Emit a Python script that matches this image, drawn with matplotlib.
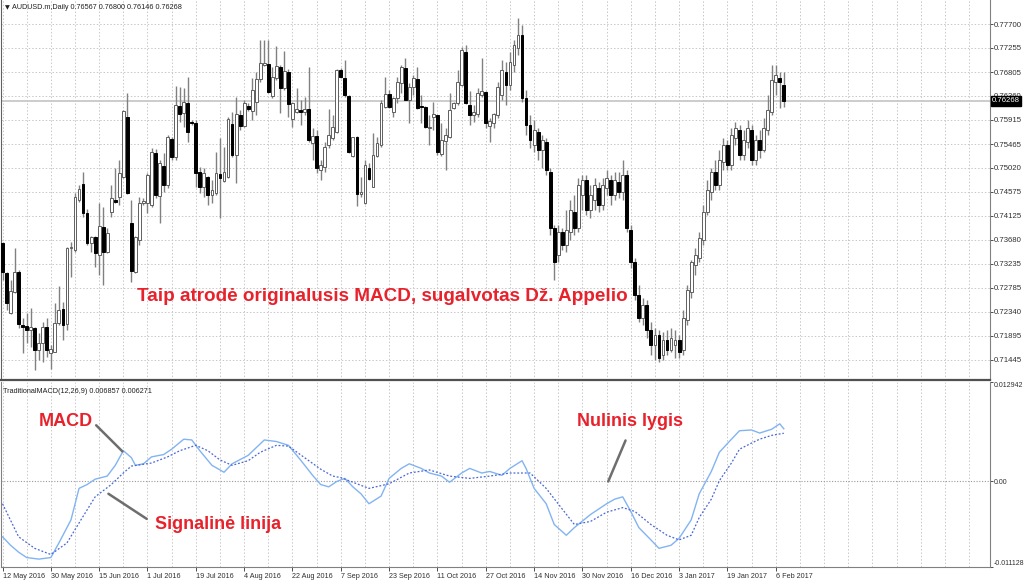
import matplotlib
matplotlib.use('Agg')
import matplotlib.pyplot as plt
import numpy as np

plt.rcParams['font.family'] = ['Liberation Sans', 'DejaVu Sans']

# daily candles AUDUSD, 12 May 2016 .. 8 Feb 2017
opens = [0.7362, 0.7306, 0.7232, 0.7271, 0.7308, 0.7210, 0.7208, 0.7200, 0.7204, 0.7163,
         0.7176, 0.7206, 0.7157, 0.7159, 0.7213, 0.7239, 0.7211, 0.7353, 0.7349, 0.7442,
         0.7472, 0.7418, 0.7362, 0.7373, 0.7340, 0.7392, 0.7345, 0.7420, 0.7442, 0.7448,
         0.7485, 0.7597, 0.7399, 0.7308, 0.7368, 0.7437, 0.7437, 0.7433, 0.7530, 0.7450,
         0.7506, 0.7470, 0.7556, 0.7522, 0.7617, 0.7604, 0.7623, 0.7588, 0.7586, 0.7494,
         0.7467, 0.7485, 0.7452, 0.7455, 0.7491, 0.7478, 0.7485, 0.7584, 0.7526, 0.7600,
         0.7580, 0.7617, 0.7608, 0.7625, 0.7668, 0.7694, 0.7696, 0.7636, 0.7669, 0.7690,
         0.7651, 0.7681, 0.7593, 0.7606, 0.7610, 0.7606, 0.7612, 0.7548, 0.7561, 0.7498,
         0.7504, 0.7545, 0.7558, 0.7569, 0.7684, 0.7669, 0.7636, 0.7524, 0.7560, 0.7453,
         0.7437, 0.7502, 0.7467, 0.7524, 0.7545, 0.7615, 0.7640, 0.7606, 0.7632, 0.7660,
         0.7688, 0.7628, 0.7653, 0.7668, 0.7617, 0.7615, 0.7576, 0.7597, 0.7601, 0.7528,
         0.7552, 0.7560, 0.7614, 0.7623, 0.7656, 0.7718, 0.7619, 0.7601, 0.7602, 0.7638,
         0.7643, 0.7580, 0.7586, 0.7601, 0.7638, 0.7681, 0.7656, 0.7694, 0.7725, 0.7750,
         0.7632, 0.7582, 0.7545, 0.7569, 0.7535, 0.7550, 0.7494, 0.7390, 0.7340, 0.7383,
         0.7359, 0.7383, 0.7420, 0.7390, 0.7452, 0.7480, 0.7424, 0.7442, 0.7465, 0.7433,
         0.7465, 0.7480, 0.7452, 0.7476, 0.7457, 0.7489, 0.7386, 0.7327, 0.7265, 0.7223,
         0.7247, 0.7200, 0.7172, 0.7191, 0.7154, 0.7182, 0.7163, 0.7172, 0.7182, 0.7163,
         0.7219, 0.7271, 0.7321, 0.7334, 0.7368, 0.7420, 0.7457, 0.7494, 0.7470, 0.7513,
         0.7545, 0.7508, 0.7558, 0.7573, 0.7526, 0.7550, 0.7573, 0.7517, 0.7554, 0.7535,
         0.7573, 0.7606, 0.7662, 0.7669, 0.76567]
highs = [0.7364, 0.7308, 0.7293, 0.7353, 0.7312, 0.7223, 0.7232, 0.7241, 0.7206, 0.7195,
         0.7215, 0.7223, 0.7172, 0.7250, 0.7282, 0.7252, 0.7355, 0.7364, 0.7455, 0.7470,
         0.7494, 0.7426, 0.7375, 0.7375, 0.7437, 0.7429, 0.7390, 0.7470, 0.7502, 0.7517,
         0.7610, 0.7642, 0.7442, 0.7375, 0.7448, 0.7446, 0.7493, 0.7539, 0.7537, 0.7517,
         0.7530, 0.7563, 0.7560, 0.7655, 0.7653, 0.7651, 0.7671, 0.7591, 0.7591, 0.7504,
         0.7502, 0.7487, 0.7480, 0.7532, 0.7558, 0.7541, 0.7597, 0.7606, 0.7634, 0.7610,
         0.7628, 0.7623, 0.7669, 0.7681, 0.7740, 0.7740, 0.7740, 0.7690, 0.7729, 0.7694,
         0.7720, 0.7686, 0.7625, 0.7651, 0.7628, 0.7634, 0.7690, 0.7576, 0.7573, 0.7517,
         0.7550, 0.7612, 0.7601, 0.7686, 0.7688, 0.7703, 0.7638, 0.7560, 0.7562, 0.7485,
         0.7517, 0.7511, 0.7567, 0.7560, 0.7628, 0.7671, 0.7647, 0.7634, 0.7671, 0.7694,
         0.7707, 0.7660, 0.7675, 0.7690, 0.7638, 0.7617, 0.7601, 0.7625, 0.7601, 0.7586,
         0.7576, 0.7642, 0.7625, 0.7684, 0.7727, 0.7731, 0.7645, 0.7619, 0.7651, 0.7707,
         0.7645, 0.7595, 0.7604, 0.7662, 0.7703, 0.7699, 0.7718, 0.7740, 0.7781, 0.7768,
         0.7647, 0.7601, 0.7591, 0.7576, 0.7563, 0.7558, 0.7502, 0.7396, 0.7396, 0.7390,
         0.7424, 0.7442, 0.7452, 0.7483, 0.7489, 0.7489, 0.7470, 0.7483, 0.7476, 0.7483,
         0.7498, 0.7489, 0.7494, 0.7494, 0.7517, 0.7498, 0.7396, 0.7334, 0.7284, 0.7260,
         0.7256, 0.7215, 0.7204, 0.7200, 0.7197, 0.7200, 0.7204, 0.7200, 0.7191, 0.7237,
         0.7284, 0.7331, 0.7353, 0.7383, 0.7433, 0.7480, 0.7502, 0.7517, 0.7535, 0.7558,
         0.7554, 0.7576, 0.7588, 0.7582, 0.7573, 0.7591, 0.7582, 0.7563, 0.7573, 0.7595,
         0.7638, 0.7694, 0.7694, 0.7681, 0.76800]
lows = [0.7293, 0.7237, 0.7230, 0.7269, 0.7204, 0.7157, 0.7176, 0.7169, 0.7126, 0.7145,
        0.7141, 0.7150, 0.7128, 0.7159, 0.7210, 0.7182, 0.7200, 0.7299, 0.7345, 0.7439,
        0.7411, 0.7358, 0.7345, 0.7318, 0.7303, 0.7284, 0.7343, 0.7411, 0.7437, 0.7433,
        0.7483, 0.7453, 0.7290, 0.7306, 0.7359, 0.7433, 0.7418, 0.7429, 0.7446, 0.7399,
        0.7457, 0.7465, 0.7517, 0.7517, 0.7588, 0.7578, 0.7550, 0.7582, 0.7467, 0.7455,
        0.7448, 0.7433, 0.7437, 0.7452, 0.7409, 0.7476, 0.7483, 0.7522, 0.7474, 0.7573,
        0.7578, 0.7608, 0.7591, 0.7601, 0.7662, 0.7692, 0.7641, 0.7632, 0.7666, 0.7604,
        0.7647, 0.7597, 0.7578, 0.7604, 0.7582, 0.7601, 0.7550, 0.7517, 0.7493, 0.7480,
        0.7494, 0.7539, 0.7554, 0.7567, 0.7669, 0.7634, 0.7530, 0.7522, 0.7431, 0.7448,
        0.7435, 0.7480, 0.7467, 0.7522, 0.7541, 0.7614, 0.7614, 0.7597, 0.7623, 0.7642,
        0.7628, 0.7586, 0.7638, 0.7612, 0.7586, 0.7576, 0.7545, 0.7573, 0.7526, 0.7524,
        0.7498, 0.7558, 0.7612, 0.7619, 0.7655, 0.7621, 0.7582, 0.7588, 0.7597, 0.7634,
        0.7576, 0.7550, 0.7576, 0.7595, 0.7628, 0.7619, 0.7647, 0.7681, 0.7712, 0.7625,
        0.7563, 0.7539, 0.7532, 0.7517, 0.7502, 0.7489, 0.7377, 0.7293, 0.7327, 0.7349,
        0.7345, 0.7368, 0.7377, 0.7383, 0.7424, 0.7414, 0.7409, 0.7424, 0.7420, 0.7424,
        0.7452, 0.7433, 0.7442, 0.7446, 0.7442, 0.7383, 0.7316, 0.7256, 0.7215, 0.7210,
        0.7185, 0.7154, 0.7144, 0.7141, 0.7144, 0.7154, 0.7159, 0.7148, 0.7148, 0.7154,
        0.7210, 0.7260, 0.7303, 0.7327, 0.7359, 0.7414, 0.7442, 0.7461, 0.7461, 0.7498,
        0.7498, 0.7498, 0.7545, 0.7517, 0.7517, 0.7539, 0.7508, 0.7508, 0.7521, 0.7532,
        0.7563, 0.7601, 0.7638, 0.7614, 0.76146]
closes = [0.7308, 0.7250, 0.7273, 0.7308, 0.7211, 0.7206, 0.7200, 0.7206, 0.7163, 0.7176,
          0.7206, 0.7163, 0.7165, 0.7213, 0.7237, 0.7210, 0.7353, 0.7355, 0.7448, 0.7463,
          0.7418, 0.7362, 0.7373, 0.7344, 0.7394, 0.7345, 0.7381, 0.7446, 0.7439, 0.7493,
          0.7608, 0.7455, 0.7310, 0.7373, 0.7437, 0.7440, 0.7489, 0.7532, 0.7452, 0.7511,
          0.7470, 0.7560, 0.7522, 0.7619, 0.7602, 0.7625, 0.7569, 0.7586, 0.7493, 0.7467,
          0.7493, 0.7452, 0.7461, 0.7493, 0.7483, 0.7494, 0.7593, 0.7526, 0.7602, 0.7580,
          0.7623, 0.7612, 0.7647, 0.7668, 0.7697, 0.7697, 0.7643, 0.7671, 0.7692, 0.7651,
          0.7682, 0.7621, 0.7623, 0.7612, 0.7606, 0.7612, 0.7554, 0.7561, 0.7502, 0.7507,
          0.7541, 0.7563, 0.7578, 0.7684, 0.7671, 0.7638, 0.7532, 0.7560, 0.7453, 0.7457,
          0.7507, 0.7481, 0.7526, 0.7548, 0.7623, 0.7640, 0.7615, 0.7632, 0.7662, 0.7690,
          0.7628, 0.7653, 0.7669, 0.7614, 0.7615, 0.7578, 0.7578, 0.7602, 0.7532, 0.7554,
          0.7563, 0.7610, 0.7623, 0.7662, 0.7722, 0.7623, 0.7601, 0.7606, 0.7642, 0.7645,
          0.7586, 0.7589, 0.7602, 0.7653, 0.7684, 0.7656, 0.7699, 0.7731, 0.7750, 0.7632,
          0.7582, 0.7554, 0.7573, 0.7535, 0.7554, 0.7498, 0.7390, 0.7327, 0.7383, 0.7359,
          0.7386, 0.7424, 0.7390, 0.7470, 0.7480, 0.7424, 0.7452, 0.7470, 0.7433, 0.7470,
          0.7483, 0.7452, 0.7480, 0.7457, 0.7489, 0.7390, 0.7327, 0.7265, 0.7223, 0.7247,
          0.7200, 0.7172, 0.7191, 0.7148, 0.7182, 0.7163, 0.7185, 0.7182, 0.7159, 0.7223,
          0.7275, 0.7327, 0.7340, 0.7372, 0.7420, 0.7461, 0.7494, 0.7470, 0.7517, 0.7545,
          0.7508, 0.7563, 0.7576, 0.7526, 0.7554, 0.7576, 0.7517, 0.7554, 0.7535, 0.7576,
          0.7610, 0.7666, 0.7675, 0.7662, 0.76268]

# MACD(12,26,9) main line and signal line, read at bar positions
macd_bars = [0, 2, 4, 6, 9, 12, 14, 17, 19, 21, 23, 26, 28, 30, 32, 33, 35, 37, 40, 42,
             45, 47, 49, 52, 55, 57, 61, 63, 65, 68, 71, 74, 77, 79, 81, 83, 85, 87, 89, 91,
             94, 96, 99, 101, 104, 106, 109, 111, 114, 116, 119, 121, 124, 126, 129, 130, 132, 135, 137, 140,
             142, 146, 150, 152, 154, 156, 158, 161, 163, 166, 168, 171, 173, 176, 178, 181, 183, 186, 188, 191,
             193, 194]
macd_vals = [-0.0072, -0.0083, -0.0092, -0.0099, -0.0101, -0.0099, -0.0080, -0.0050, -0.0009, -0.0004,
             0.0003, 0.0007, 0.0021, 0.0040, 0.0031, 0.0021, 0.0023, 0.0032, 0.0035, 0.0042,
             0.0055, 0.0054, 0.0040, 0.0021, 0.0012, 0.0023, 0.0034, 0.0044, 0.0054, 0.0052,
             0.0047, 0.0028, 0.0008, -0.0004, -0.0007, 0.0000, 0.0004, -0.0007, -0.0016, -0.0029,
             -0.0019, 0.0004, 0.0017, 0.0023, 0.0017, 0.0011, 0.0007, -0.0001, 0.0011, 0.0017,
             0.0011, 0.0013, 0.0008, 0.0017, 0.0027, 0.0017, -0.0009, -0.0029, -0.0056, -0.0070,
             -0.0060, -0.0043, -0.0029, -0.0023, -0.0020, -0.0039, -0.0060, -0.0076, -0.0087, -0.0083,
             -0.0074, -0.0050, -0.0016, 0.0013, 0.0038, 0.0055, 0.0066, 0.0067, 0.0063, 0.0068,
             0.0075, 0.006857]
signal_bars = [0, 4, 8, 12, 16, 19, 23, 27, 30, 32, 37, 41, 44, 48, 51, 54, 57, 61, 64, 68,
               71, 75, 79, 82, 84, 86, 91, 96, 101, 106, 111, 116, 121, 126, 131, 135, 139, 142, 146, 150,
               154, 157, 161, 165, 168, 171, 173, 176, 178, 181, 183, 186, 188, 191, 194]
signal_vals = [-0.0029, -0.0072, -0.0087, -0.0095, -0.0080, -0.0054, -0.0020, -0.0004, 0.0011, 0.0020,
               0.0024, 0.0032, 0.0040, 0.0047, 0.0040, 0.0028, 0.0021, 0.0027, 0.0038, 0.0047,
               0.0046, 0.0031, 0.0016, 0.0007, 0.0005, 0.0001, -0.0009, -0.0003, 0.0011, 0.0015,
               0.0007, 0.0004, 0.0007, 0.0011, 0.0011, -0.0009, -0.0036, -0.0056, -0.0052, -0.0040,
               -0.0034, -0.0039, -0.0056, -0.0070, -0.0076, -0.0070, -0.0047, -0.0023, 0.0001, 0.0024,
               0.0042, 0.0050, 0.0055, 0.0060, 0.006271]

price_ticks = [0.71445, 0.71895, 0.72340, 0.72785, 0.73235, 0.73680, 0.74125, 0.74575,
               0.75020, 0.75465, 0.75915, 0.76360, 0.76805, 0.77255, 0.77700]
macd_ticks = [-0.011128, 0.0, 0.012942]
macd_tick_labels = ['-0.011128', '0.00', '0.012942']
date_labels = ['12 May 2016', '30 May 2016', '15 Jun 2016', '1 Jul 2016', '19 Jul 2016',
               '4 Aug 2016', '22 Aug 2016', '7 Sep 2016', '23 Sep 2016', '11 Oct 2016',
               '27 Oct 2016', '14 Nov 2016', '30 Nov 2016', '16 Dec 2016', '3 Jan 2017',
               '19 Jan 2017', '6 Feb 2017']
last_price = 0.76268

red = '#e8212b'
small = 5.6
grid_kw = dict(color='#c8c8c8', linestyle=(0, (1.5, 2)), linewidth=0.7)

fig = plt.figure(figsize=(10.24, 5.84), dpi=100)
W, H = 1024.0, 584.0
ax = fig.add_axes([0.5 / W, 1 - 380 / H, 989.5 / W, 380 / H])
ax2 = fig.add_axes([0.5 / W, 1 - 567 / H, 989.5 / W, 185 / H])

x = np.arange(len(opens))
o, h, l, c = (np.array(v) for v in (opens, highs, lows, closes))
up = c >= o

# candles
ax.axhline(last_price, color='#c8c8c8', lw=1.3, zorder=1)
ax.vlines(x, l, h, color='#808080', lw=1.0, zorder=2)
ax.bar(x[up], c[up] - o[up], bottom=o[up], width=0.7, color='white',
       edgecolor='#5f5f5f', linewidth=0.7, zorder=3)
ax.bar(x[~up], o[~up] - c[~up], bottom=c[~up], width=0.7, color='black',
       edgecolor='black', linewidth=0.7, zorder=3)

ax.set_xlim(-0.5, 245.2)
ax.set_ylim(0.71071, 0.78147)
ax.set_xticks(np.arange(0, 246, 6))
ax.tick_params(axis='x', length=0, labelbottom=False)
ax.yaxis.tick_right()
ax.set_yticks(price_ticks)
ax.set_yticklabels([f'{v:.5f}' for v in price_ticks])
ax.tick_params(axis='y', labelsize=small, length=2, pad=1, colors='#303030', width=0.6)
ax.grid(True, **grid_kw)
ax.spines['top'].set_visible(False)
ax.spines['left'].set_color('#606060')
ax.spines['right'].set_color('#808080')
ax.spines['bottom'].set_color('#505050')
ax.spines['bottom'].set_linewidth(1.6)

ax.text(1.002, last_price, '0.76268', transform=ax.get_yaxis_transform(),
        va='center', ha='left', fontsize=small, color='white', zorder=10, clip_on=False,
        bbox=dict(facecolor='black', edgecolor='black', pad=1.0))

ax.text(0.0045, 0.979, '\u25bc', transform=ax.transAxes, fontsize=4.5, va='center',
        family='DejaVu Sans', color='#202020')
ax.text(0.0115, 0.979, 'AUDUSD.m,Daily 0.76567 0.76800 0.76146 0.76268', transform=ax.transAxes,
        fontsize=5.2, va='center', color='#202020')

ax.text(94.3, 0.7262, 'Taip atrodė originalusis MACD, sugalvotas Dž. Appelio',
        ha='center', va='center', fontsize=13.6, fontweight='bold', color=red, zorder=6)

# MACD window
ax2.plot(macd_bars, macd_vals, color='#82b4f2', lw=1.0, zorder=4)
ax2.plot(signal_bars, signal_vals, color='#4a67d6', lw=0.9, ls=(0, (1.5, 1.5)), zorder=4)
ax2.axhline(0, color='#9a9a9a', lw=0.8, ls=(0, (1, 1.5)), zorder=2)

ax2.set_xlim(-0.5, 245.2)
ax2.set_ylim(-0.011128, 0.012942)
ax2.set_xticks(np.arange(0, 193, 12))
ax2.set_xticklabels(date_labels)
ax2.set_xticks(np.arange(0, 246, 6), minor=True)
for lbl in ax2.get_xticklabels():
    lbl.set_ha('left')
ax2.tick_params(axis='x', which='major', labelsize=5.2, length=3, pad=1.5, colors='#303030', width=0.6)
ax2.tick_params(axis='x', which='minor', length=0)
ax2.xaxis.grid(True, which='both', **grid_kw)
ax2.yaxis.tick_right()
ax2.set_yticks(macd_ticks)
ax2.set_yticklabels(macd_tick_labels)
ax2.tick_params(axis='y', labelsize=5.0, length=2, pad=0.5, colors='#303030', width=0.6)
ax2.get_yticklabels()[2].set_va('top')
ax2.get_yticklabels()[0].set_va('bottom')
for s in ax2.spines.values():
    s.set_color('#808080')
ax2.spines['top'].set_visible(False)

ax2.text(0.003, 0.965, 'TraditionalMACD(12,26,9) 0.006857 0.006271', transform=ax2.transAxes,
         fontsize=5.2, va='top', color='#202020')

txt_kw = dict(fontsize=13, fontweight='bold', color=red, ha='center', va='center', zorder=6)
line_kw = dict(arrowstyle='-', color='#6e6e6e', lw=1.8, shrinkB=0)
ax2.annotate('MACD', xy=(29.8, 0.0039), xytext=(15.6, 0.0078),
             arrowprops=dict(relpos=(1, 0.5), shrinkA=1, **line_kw), **txt_kw)
ax2.annotate('Signalinė linija', xy=(26.3, -0.0016), xytext=(53.6, -0.0056),
             arrowprops=dict(relpos=(0, 0.5), shrinkA=5, **line_kw), **txt_kw)
ax2.annotate('Nulinis lygis', xy=(150.4, 0.0), xytext=(155.8, 0.0078),
             arrowprops=dict(relpos=(0.5, 0), shrinkA=6, **line_kw), **txt_kw)

fig.savefig('out.png', dpi=100)
